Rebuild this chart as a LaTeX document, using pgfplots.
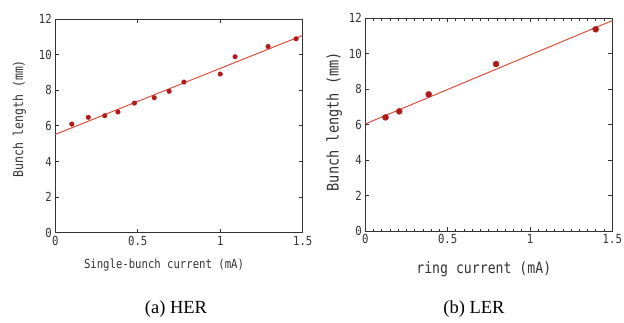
\documentclass[border=0pt]{standalone}
\usepackage{fontspec}
\setmainfont{Liberation Serif}
\newfontfamily\gfont[FakeStretch=0.85]{DejaVu Sans Mono}
\usepackage{pgfplots}
\pgfplotsset{compat=1.18}
\definecolor{ptc}{HTML}{B01A1A}
\definecolor{lnc}{HTML}{D9503A}
\definecolor{axc}{HTML}{333333}
\pgfplotsset{
  myax/.style={
    scale only axis,
    xmin=0, xmax=1.5, ymin=0, ymax=12,
    xtick={0,0.5,1,1.5}, ytick={0,2,...,12},
    tick align=inside,
    axis line style={line width=0.9pt, axc},
    major tick length=4pt, minor tick length=2.5pt,
    every tick/.style={axc, line width=0.8pt},
    /pgf/number format/assume math mode=true,
    tick label style={font=\gfont\fontsize{12.5}{12.5}\selectfont, text=axc},
    label style={text=axc},
  }
}
\begin{document}
\begin{tikzpicture}
\path[use as bounding box] (0pt,0pt) rectangle (624pt,-322pt);
\begin{axis}[myax,
  at={(55.3pt,-232.7pt)}, anchor=south west,
  width=247.4pt, height=213.7pt,
  xlabel={Single-bunch current (mA)},
  ylabel={Bunch length (mm)},
  xlabel style={font=\gfont\fontsize{12.5}{13}\selectfont, xshift=-15pt, yshift=-6pt},
  ylabel style={font=\gfont\fontsize{13.5}{14}\selectfont, yshift=6pt, xshift=7pt},
]
\addplot[lnc, line width=1pt] coordinates {(0,5.52) (1.5,11.08)};
\addplot[only marks, mark=*, mark size=2.3pt, ptc] coordinates {
(0.10,6.10) (0.20,6.48) (0.30,6.57) (0.38,6.78) (0.48,7.28) (0.60,7.58)
(0.69,7.94) (0.78,8.46) (1.00,8.91) (1.09,9.88) (1.29,10.46) (1.46,10.89)};
\end{axis}
\begin{axis}[myax,
  at={(365.3pt,-231pt)}, anchor=south west,
  width=247pt, height=212.7pt,
  minor x tick num=9,
  xlabel={ring current (mA)},
  ylabel={Bunch length (mm)},
  xlabel style={font=\gfont\fontsize{15.5}{16}\selectfont, xshift=-5pt, yshift=-11pt},
  ylabel style={font=\gfont\fontsize{16}{17}\selectfont, xshift=3pt},
]
\addplot[lnc, line width=1pt] coordinates {(0,6.04) (1.5,11.87)};
\addplot[only marks, mark=*, mark size=3pt, ptc] coordinates {
(0.123,6.41) (0.206,6.75) (0.385,7.71) (0.794,9.42) (1.399,11.38)};
\end{axis}
\node[font=\fontsize{18.5}{20}\selectfont] at (176pt,-309pt) {(a) HER};
\node[font=\fontsize{18.5}{20}\selectfont] at (474pt,-309pt) {(b) LER};
\end{tikzpicture}
\end{document}
